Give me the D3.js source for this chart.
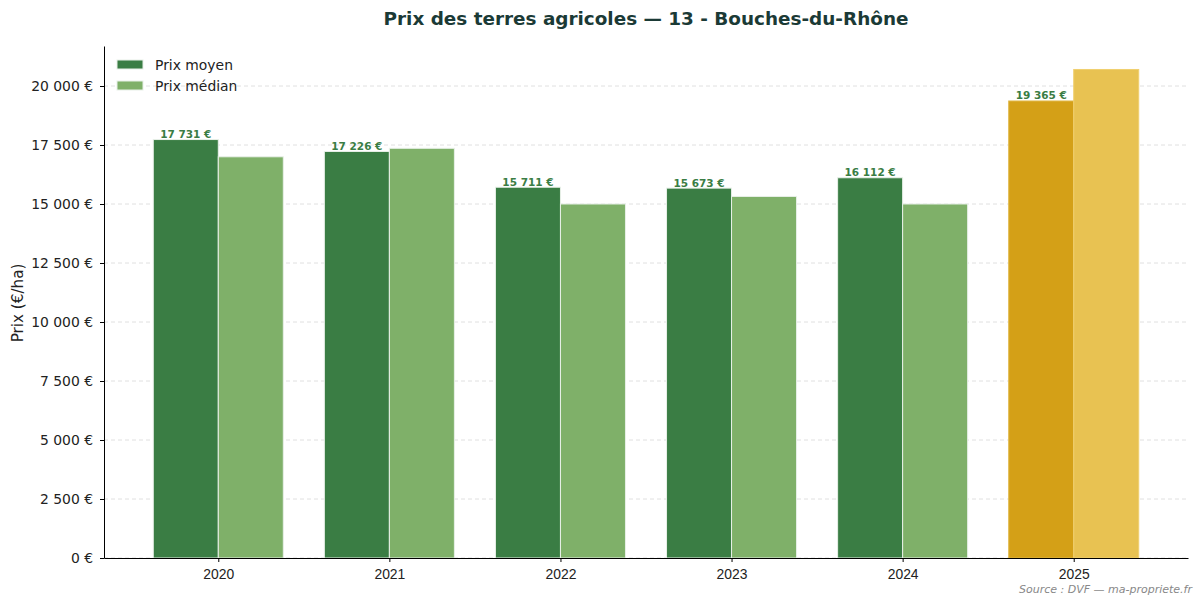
<!DOCTYPE html>
<html>
<head>
<meta charset="utf-8">
<script src="https://cdn.jsdelivr.net/npm/d3@7"></script>
<style>
  body { margin: 0; background: #fff; }
  svg { font-family: "DejaVu Sans", sans-serif; }
</style>
</head>
<body>
<div class="graph"></div>
<script>
const years = ["2020", "2021", "2022", "2023", "2024", "2025"];
const meanPrice = [17731, 17226, 15711, 15673, 16112, 19365];
const medianPrice = [17000, 17360, 15000, 15320, 15000, 20700];
const yTicks = [0, 2500, 5000, 7500, 10000, 12500, 15000, 17500, 20000];

const chartWidth = 1203;
const chartHeight = 606;
const plotLeft = 104, plotRight = 1188, plotTop = 46, plotBottom = 558;
const barW = 0.38;
const fontFamily = "DejaVu Sans, sans-serif";

const fmt = v => d3.format(",")(v).replace(/,/g, "\u00a0") + " €";

const svg = d3.select(".graph")
        .append("svg")
        .attr("width", chartWidth)
        .attr("height", chartHeight);

const x = d3.scaleLinear()
        .domain([-barW - 0.288, 5 + barW + 0.288])
        .range([plotLeft, plotRight]);

const y = d3.scaleLinear()
        .domain([0, 20000 * (plotBottom - plotTop) / (plotBottom - 86)])
        .range([plotBottom, plotTop]);

// grid
svg.append("g")
        .selectAll("line")
        .data(yTicks).enter()
        .append("line")
        .attr("x1", plotLeft)
        .attr("x2", plotRight)
        .attr("y1", d => y(d))
        .attr("y2", d => y(d))
        .attr("stroke", "#d8d8d8")
        .attr("stroke-dasharray", "4,3")
        .attr("stroke-width", 0.8);

const isLast = i => i === years.length - 1;

// mean bars
svg.append("g")
        .selectAll("rect")
        .data(meanPrice).enter()
        .append("rect")
        .attr("x", (_, i) => x(i - barW))
        .attr("y", d => y(d))
        .attr("width", x(barW) - x(0))
        .attr("height", d => plotBottom - y(d))
        .attr("fill", (_, i) => isLast(i) ? "#d4a017" : "#3a7d44")
        .attr("stroke", (_, i) => isLast(i) ? "#e0b84a" : "#e8f0e8")
        .attr("stroke-width", 1);

// median bars
svg.append("g")
        .selectAll("rect")
        .data(medianPrice).enter()
        .append("rect")
        .attr("x", (_, i) => x(i))
        .attr("y", d => y(d))
        .attr("width", x(barW) - x(0))
        .attr("height", d => plotBottom - y(d))
        .attr("fill", (_, i) => isLast(i) ? "#e8c252" : "#7fb069")
        .attr("stroke", (_, i) => isLast(i) ? "#f0d070" : "#e8f0e8")
        .attr("stroke-width", 1);

// value labels
svg.append("g")
        .selectAll("text")
        .data(meanPrice).enter()
        .append("text")
        .attr("x", (_, i) => x(i - barW / 2))
        .attr("y", d => y(d) - 1.5)
        .attr("text-anchor", "middle")
        .attr("font-size", 10.5)
        .attr("font-weight", "bold")
        .attr("fill", "#3a7d44")
        .text(d => fmt(d));

// axes
const xAxis = d3.axisBottom(x)
        .tickValues(d3.range(years.length))
        .tickFormat(i => years[i])
        .tickSize(4)
        .tickSizeOuter(0)
        .tickPadding(4);
const gx = svg.append("g")
        .attr("transform", `translate(0,${plotBottom})`)
        .attr("font-family", fontFamily)
        .call(xAxis);
gx.selectAll("text").attr("font-size", 13.9).attr("dy", "0.95em").attr("fill", "#222");

const yAxis = d3.axisLeft(y)
        .tickValues(yTicks)
        .tickFormat(fmt)
        .tickSize(4)
        .tickSizeOuter(0)
        .tickPadding(7);
const gy = svg.append("g")
        .attr("transform", `translate(${plotLeft},0)`)
        .call(yAxis)
        .attr("font-family", fontFamily);
gy.selectAll("text").attr("font-size", 13.9).attr("fill", "#222");

svg.selectAll(".domain").attr("stroke", "#000").attr("stroke-width", 1);
svg.selectAll(".tick line").attr("stroke", "#000");

// y label
svg.append("text")
        .attr("transform", `translate(23,${(plotTop + plotBottom) / 2 + 1}) rotate(-90)`)
        .attr("text-anchor", "middle")
        .attr("font-size", 15.2)
        .attr("fill", "#222")
        .text("Prix (€/ha)");

// title
svg.append("text")
        .attr("x", (plotLeft + plotRight) / 2)
        .attr("y", 25)
        .attr("text-anchor", "middle")
        .attr("font-size", 18.4)
        .attr("font-weight", "bold")
        .attr("fill", "#1b3a36")
        .text("Prix des terres agricoles — 13 - Bouches-du-Rhône");

// legend
const legend = [
    { label: "Prix moyen", color: "#3a7d44" },
    { label: "Prix médian", color: "#7fb069" },
];
const lg = svg.append("g").attr("transform", "translate(117,60)");
lg.selectAll("rect")
        .data(legend).enter()
        .append("rect")
        .attr("x", 0)
        .attr("y", (_, i) => i * 21)
        .attr("width", 26)
        .attr("height", 9)
        .attr("fill", d => d.color)
        .attr("stroke", "#e8f0e8");
lg.selectAll("text")
        .data(legend).enter()
        .append("text")
        .attr("x", 38)
        .attr("y", (_, i) => i * 21 + 10)
        .attr("font-size", 13.9)
        .attr("fill", "#222")
        .text(d => d.label);

// source
svg.append("text")
        .attr("x", 1192)
        .attr("y", 593)
        .attr("text-anchor", "end")
        .attr("font-size", 11)
        .attr("font-style", "italic")
        .attr("fill", "#888")
        .text("Source : DVF — ma-propriete.fr");
</script>
</body>
</html>
